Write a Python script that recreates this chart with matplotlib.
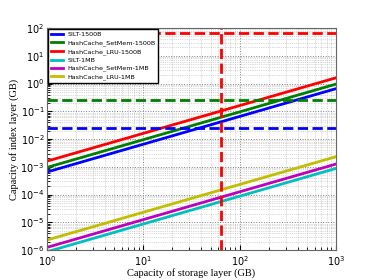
import numpy as np
import matplotlib
matplotlib.use('Agg')
import matplotlib.pyplot as plt

#storage capacity range (GB)
X_RANGE = [1, 1000]
LABELS = ['SILT-1500B', 'HashCache_SetMem-1500B', 'HashCache_LRU-1500B',
          'SILT-1MB', 'HashCache_SetMem-1MB', 'HashCache_LRU-1MB']
#index GB needed per GB of storage
INDEX_PER_GB = [6.5e-4, 9.5e-4, 1.6e-3, 8.7e-7, 1.25e-6, 2.3e-6]
COLORS = ['b', 'g', 'r', 'c', 'm', 'y']
#reference limits
HLINES = [64, 0.26, 0.025]
HCOLORS = ['r', 'g', 'b']
VLINE = 64

plt.rcParams['mathtext.fontset'] = 'stix'
fig = plt.figure(figsize=(3.74, 2.8), dpi=100)
ax = fig.add_axes([0.126, 0.107, 0.772, 0.793])

x = np.array(X_RANGE, dtype=float)
for k, lab, c in zip(INDEX_PER_GB, LABELS, COLORS):
    ax.plot(x, k * x, color=c, lw=2, label=lab)
for h, c in zip(HLINES, HCOLORS):
    ax.axhline(h, color=c, ls='--', lw=2)
ax.axvline(VLINE, color='r', ls='--', lw=2)

ax.set_xscale('log')
ax.set_yscale('log')
ax.set_xlim(1, 1000)
ax.set_ylim(1e-6, 1e2)
ax.grid(True, which='major', ls=':', color='0.5', lw=0.7)
ax.grid(True, which='minor', ls=':', color='0.7', lw=0.5)
for s in ax.spines.values():
    s.set_color('0.4')
ax.tick_params(labelsize=7, direction='in', which='both')
ax.tick_params(axis='x', pad=3)
ax.tick_params(axis='y', pad=2)
ax.set_xlabel('Capacity of storage layer (GB)', family='Liberation Serif', size=7.5, labelpad=0)
ax.set_ylabel('Capacity of index layer (GB)', family='Liberation Serif', size=7.5, labelpad=1)
leg = ax.legend(loc='upper left', fontsize=4.6, handlelength=1.9, borderpad=0.4,
                labelspacing=0.4, handletextpad=0.7, fancybox=False, framealpha=1,
                borderaxespad=0.2)
leg.get_frame().set_edgecolor('k')

plt.savefig('out.png', dpi=100)
